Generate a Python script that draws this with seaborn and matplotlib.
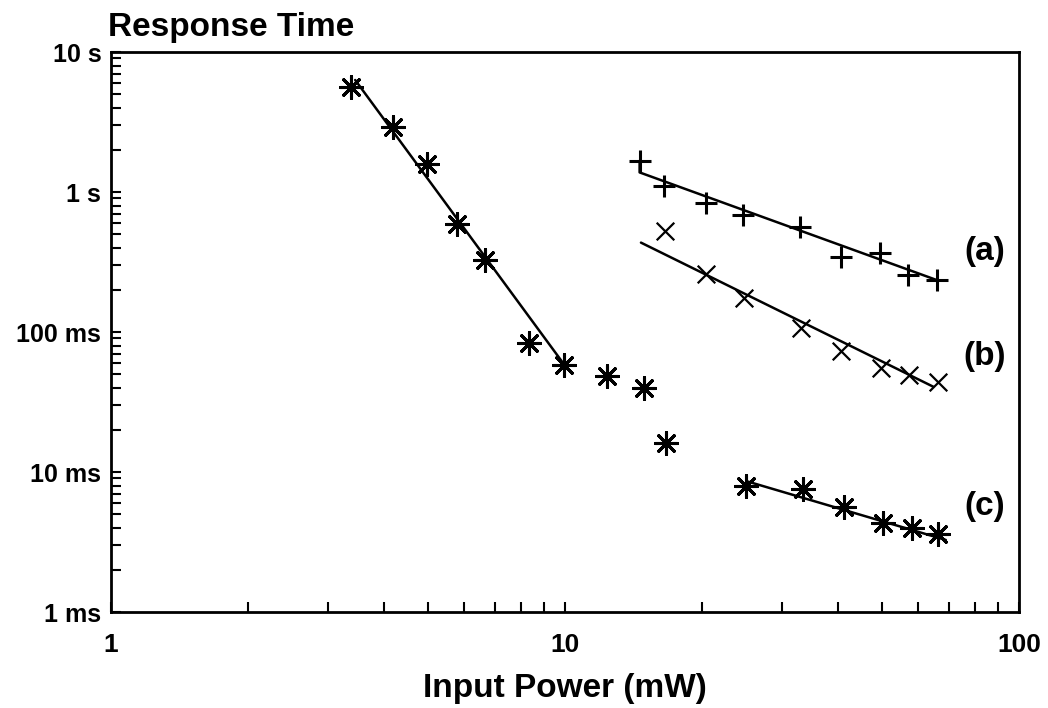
import matplotlib
matplotlib.use("Agg")
import matplotlib.pyplot as plt
from matplotlib.ticker import FixedLocator, FixedFormatter, LogLocator, NullFormatter
import seaborn as sns

# steep series (left), asterisks
steep_power = [3.37, 4.17, 4.97, 5.77, 6.66, 8.34, 9.97, 12.4, 14.9, 16.7]
steep_time = [5.65, 2.93, 1.58, 0.591, 0.327, 0.083, 0.058, 0.0485, 0.040, 0.016]
steep_fit_power = [3.45, 9.91]
steep_fit_time = [6.31, 0.0598]

# (a) plus markers
a_power = [14.6, 16.5, 20.4, 24.7, 32.9, 40.5, 49.4, 57.0, 65.9]
a_time = [1.67, 1.10, 0.83, 0.685, 0.56, 0.342, 0.365, 0.255, 0.235]
a_fit_power = [14.6, 14.6, 65.9]
a_fit_time = [1.67, 1.38, 0.235]

# (b) x markers
b_power = [16.6, 20.4, 24.8, 33.1, 40.5, 49.7, 57.3, 66.2]
b_time = [0.529, 0.26, 0.174, 0.106, 0.0735, 0.055, 0.0493, 0.0441]
b_fit_power = [14.7, 64.7]
b_fit_time = [0.435, 0.0407]

# (c) asterisks
c_power = [25.1, 33.5, 41.2, 50.2, 58.0, 66.4]
c_time = [0.0079, 0.00756, 0.00565, 0.00431, 0.00396, 0.00361]
c_fit_power = [25.1, 69.0]
c_fit_time = [0.0086, 0.00327]

y_ticks = [0.001, 0.01, 0.1, 1, 10]
y_labels = ["1 ms", "10 ms", "100 ms", "1 s", "10 s"]
x_ticks = [1, 10, 100]
x_labels = ["1", "10", "100"]
series_labels = ["(a)", "(b)", "(c)"]

sns.set_style("ticks")
plt.rcParams["font.family"] = ["Liberation Sans", "DejaVu Sans"]
plt.rcParams["font.weight"] = "bold"
for key in ["text.color", "axes.labelcolor", "xtick.color", "ytick.color", "axes.edgecolor"]:
    plt.rcParams[key] = "black"

fig = plt.figure(figsize=(10.48, 7.08), dpi=100)
ax = fig.add_axes([111 / 1048, 1 - 612 / 708, 908 / 1048, 560 / 708])

star = (8, 2, 0)
line_kw = dict(color="black", linewidth=1.8, estimator=None, sort=False, legend=False)

sns.lineplot(x=steep_fit_power, y=steep_fit_time, ax=ax, **line_kw)
sns.lineplot(x=a_fit_power, y=a_fit_time, ax=ax, **line_kw)
sns.lineplot(x=b_fit_power, y=b_fit_time, ax=ax, **line_kw)
sns.lineplot(x=c_fit_power, y=c_fit_time, ax=ax, **line_kw)

sns.scatterplot(x=steep_power, y=steep_time, marker=star, s=250, color="black", linewidth=2.2, ax=ax, legend=False)
sns.scatterplot(x=a_power, y=a_time, marker="+", s=270, color="black", linewidth=2.2, ax=ax, legend=False)
sns.scatterplot(x=b_power, y=b_time, marker="x", s=160, color="black", linewidth=1.6, ax=ax, legend=False)
sns.scatterplot(x=c_power, y=c_time, marker=star, s=250, color="black", linewidth=2.2, ax=ax, legend=False)

ax.set_xscale("log")
ax.set_yscale("log")
ax.set_xlim(1, 100)
ax.set_ylim(0.001, 10)

ax.xaxis.set_major_locator(FixedLocator(x_ticks))
ax.xaxis.set_major_formatter(FixedFormatter(x_labels))
ax.yaxis.set_major_locator(FixedLocator(y_ticks))
ax.yaxis.set_major_formatter(FixedFormatter(y_labels))
ax.xaxis.set_minor_locator(LogLocator(base=10, subs=range(2, 10)))
ax.yaxis.set_minor_locator(LogLocator(base=10, subs=range(2, 10)))
ax.xaxis.set_minor_formatter(NullFormatter())
ax.yaxis.set_minor_formatter(NullFormatter())

ax.tick_params(which="both", direction="in", top=False, right=False,
               length=7, width=1.5, color="black")
ax.tick_params(axis="x", which="major", labelsize=19, pad=15)
ax.tick_params(axis="y", which="major", labelsize=18, pad=7)
for lab in ax.get_xticklabels() + ax.get_yticklabels():
    lab.set_fontweight("bold")

for sp in ax.spines.values():
    sp.set_visible(True)
    sp.set_linewidth(2)
    sp.set_color("black")

ax.set_xlabel("Input Power (mW)", fontsize=24, fontweight="bold", labelpad=12)
ax.set_ylabel("")

for lab, ypos in zip(series_labels, [0.6446, 0.4554, 0.1875]):
    ax.text(0.9626, ypos, lab, transform=ax.transAxes, ha="center", va="center",
            fontsize=24, fontweight="bold")

fig.text(108 / 1048, 1 - 36 / 708, "Response Time", ha="left", va="baseline",
         fontsize=24, fontweight="bold")

fig.savefig("out.png", dpi=100)
